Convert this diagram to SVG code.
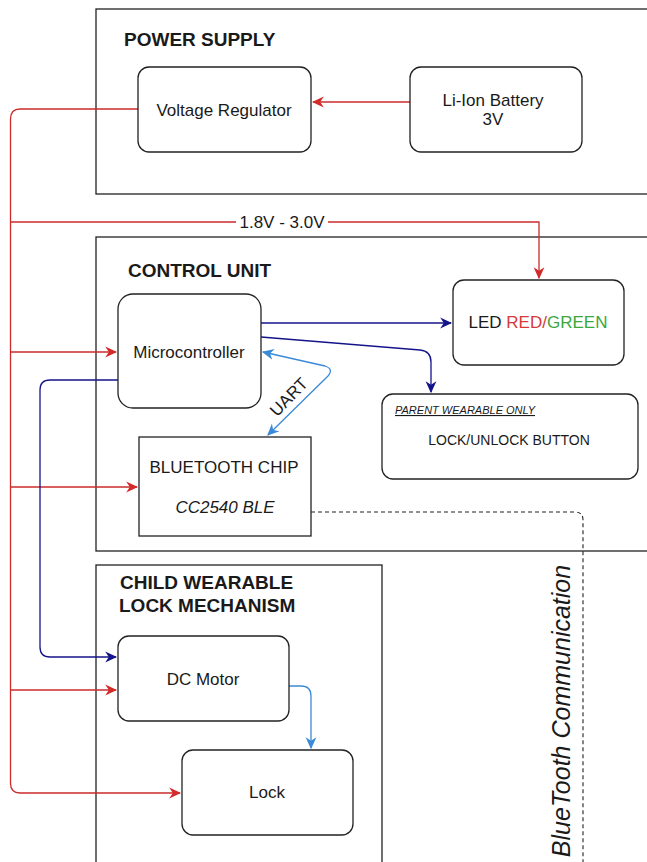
<svg xmlns="http://www.w3.org/2000/svg" width="647" height="862" viewBox="0 0 647 862">
<defs>
<marker id="ar" markerUnits="userSpaceOnUse" markerWidth="12" markerHeight="12" viewBox="0 0 10 10" refX="9" refY="5" orient="auto-start-reverse"><path d="M0,0.5 L10,5 L0,9.5 L3,5 z" fill="#d42a2a"/></marker>
<marker id="an" markerUnits="userSpaceOnUse" markerWidth="12" markerHeight="12" viewBox="0 0 10 10" refX="9" refY="5" orient="auto-start-reverse"><path d="M0,0.5 L10,5 L0,9.5 L3,5 z" fill="#14148a"/></marker>
<marker id="ab" markerUnits="userSpaceOnUse" markerWidth="12" markerHeight="12" viewBox="0 0 10 10" refX="9" refY="5" orient="auto-start-reverse"><path d="M0,0.5 L10,5 L0,9.5 L3,5 z" fill="#3a8ad8"/></marker>
</defs>
<style>
.grp{fill:#fff;stroke:#222;stroke-width:1.3}
.nd{fill:#fff;stroke:#222;stroke-width:1.3}
text{font-family:"Liberation Sans",Arial,sans-serif;fill:#1a1a1a}
.h{font-weight:bold;font-size:19px}
.l{font-size:17px;text-anchor:middle}
.r{fill:none;stroke:#cc2b2b;stroke-width:1.3}
.n{fill:none;stroke:#14148a;stroke-width:1.3}
.b{fill:none;stroke:#3a8ad8;stroke-width:1.3}
</style>
<rect width="647" height="862" fill="#fff"/>
<g id="power-supply">
<rect class="grp" x="96" y="9" width="560" height="185"/>
<text class="h" x="124" y="46">POWER SUPPLY</text>
</g>
<g id="control-unit">
<rect class="grp" x="96" y="237" width="560" height="314"/>
<text class="h" x="128" y="277">CONTROL UNIT</text>
</g>
<g id="child-wearable">
<rect class="grp" x="96" y="565" width="286" height="310"/>
<text class="h" x="120" y="589">CHILD WEARABLE</text>
<text class="h" x="119" y="612">LOCK MECHANISM</text>
</g>
<g id="connectors">
<path class="r" d="M410,102 L313,102" marker-end="url(#ar)"/>
<path class="r" d="M138,109 L20,109 Q10.5,109 10.5,119 L10.5,783 Q10.5,793 20,793 L180,793" marker-end="url(#ar)"/>
<path class="r" d="M10.5,222 L539,222 L539,278" marker-end="url(#ar)"/>
<path class="r" d="M10.5,352 L116,352" marker-end="url(#ar)"/>
<path class="r" d="M10.5,487 L137,487" marker-end="url(#ar)"/>
<path class="r" d="M10.5,690 L116,690" marker-end="url(#ar)"/>
<path class="n" d="M261,323 L451,323" marker-end="url(#an)"/>
<path class="n" d="M261,337 L420,350 Q431,351 431,362 L431,392" marker-end="url(#an)"/>
<path class="n" d="M118,380 L50,380 Q40,380 40,390 L40,647 Q40,657 50,657 L116,657" marker-end="url(#an)"/>
<path class="b" d="M289,686 L301,686 Q311,686 311,696 L311,748" marker-end="url(#ab)"/>
<path class="b" d="M263,352 L325,366 Q334,369 328,376 L268,435" marker-start="url(#ab)" marker-end="url(#ab)"/>
<path d="M311,512 L575,512 Q583,512 583,520 L583,862" fill="none" stroke="#222" stroke-width="1.1" stroke-dasharray="4 3"/>
<rect x="236" y="212" width="92" height="20" fill="#fff"/>
<text x="282" y="228" font-size="17" text-anchor="middle">1.8V - 3.0V</text>
<text x="0" y="0" font-size="17" text-anchor="middle" transform="translate(293,401) rotate(-46)">UART</text>
<text x="0" y="0" font-size="25" font-style="italic" text-anchor="middle" transform="translate(570,711) rotate(-90)">BlueTooth Communication</text>
</g>
<g id="voltage-regulator">
<rect class="nd" x="138" y="67" width="173" height="85" rx="11"/>
<text class="l" x="224" y="116">Voltage Regulator</text>
</g>
<g id="battery">
<rect class="nd" x="410" y="67" width="172" height="85" rx="11"/>
<text class="l" x="493" y="106">Li-Ion Battery</text>
<text class="l" x="493" y="125">3V</text>
</g>
<g id="microcontroller">
<rect class="nd" x="118" y="294" width="143" height="114" rx="15"/>
<text class="l" x="189" y="358">Microcontroller</text>
</g>
<g id="led">
<rect class="nd" x="453" y="280" width="171" height="85" rx="11"/>
<text x="538" y="328" font-size="17" text-anchor="middle">LED <tspan fill="#d83a3a">RED/</tspan><tspan fill="#3aa83a">GREEN</tspan></text>
</g>
<g id="lock-button">
<rect class="nd" x="382" y="394" width="256" height="85" rx="11"/>
<text x="395" y="414" font-size="11" font-style="italic" text-decoration="underline">PARENT WEARABLE ONLY</text>
<text x="509" y="445" font-size="14" text-anchor="middle">LOCK/UNLOCK BUTTON</text>
</g>
<g id="bluetooth-chip">
<rect class="nd" x="139" y="437" width="172" height="99"/>
<text class="l" x="224" y="473">BLUETOOTH CHIP</text>
<text class="l" x="225" y="513" font-style="italic">CC2540 BLE</text>
</g>
<g id="dc-motor">
<rect class="nd" x="118" y="636" width="171" height="85" rx="11"/>
<text class="l" x="203" y="685">DC Motor</text>
</g>
<g id="lock">
<rect class="nd" x="182" y="750" width="171" height="85" rx="11"/>
<text class="l" x="267" y="798">Lock</text>
</g>
</svg>
